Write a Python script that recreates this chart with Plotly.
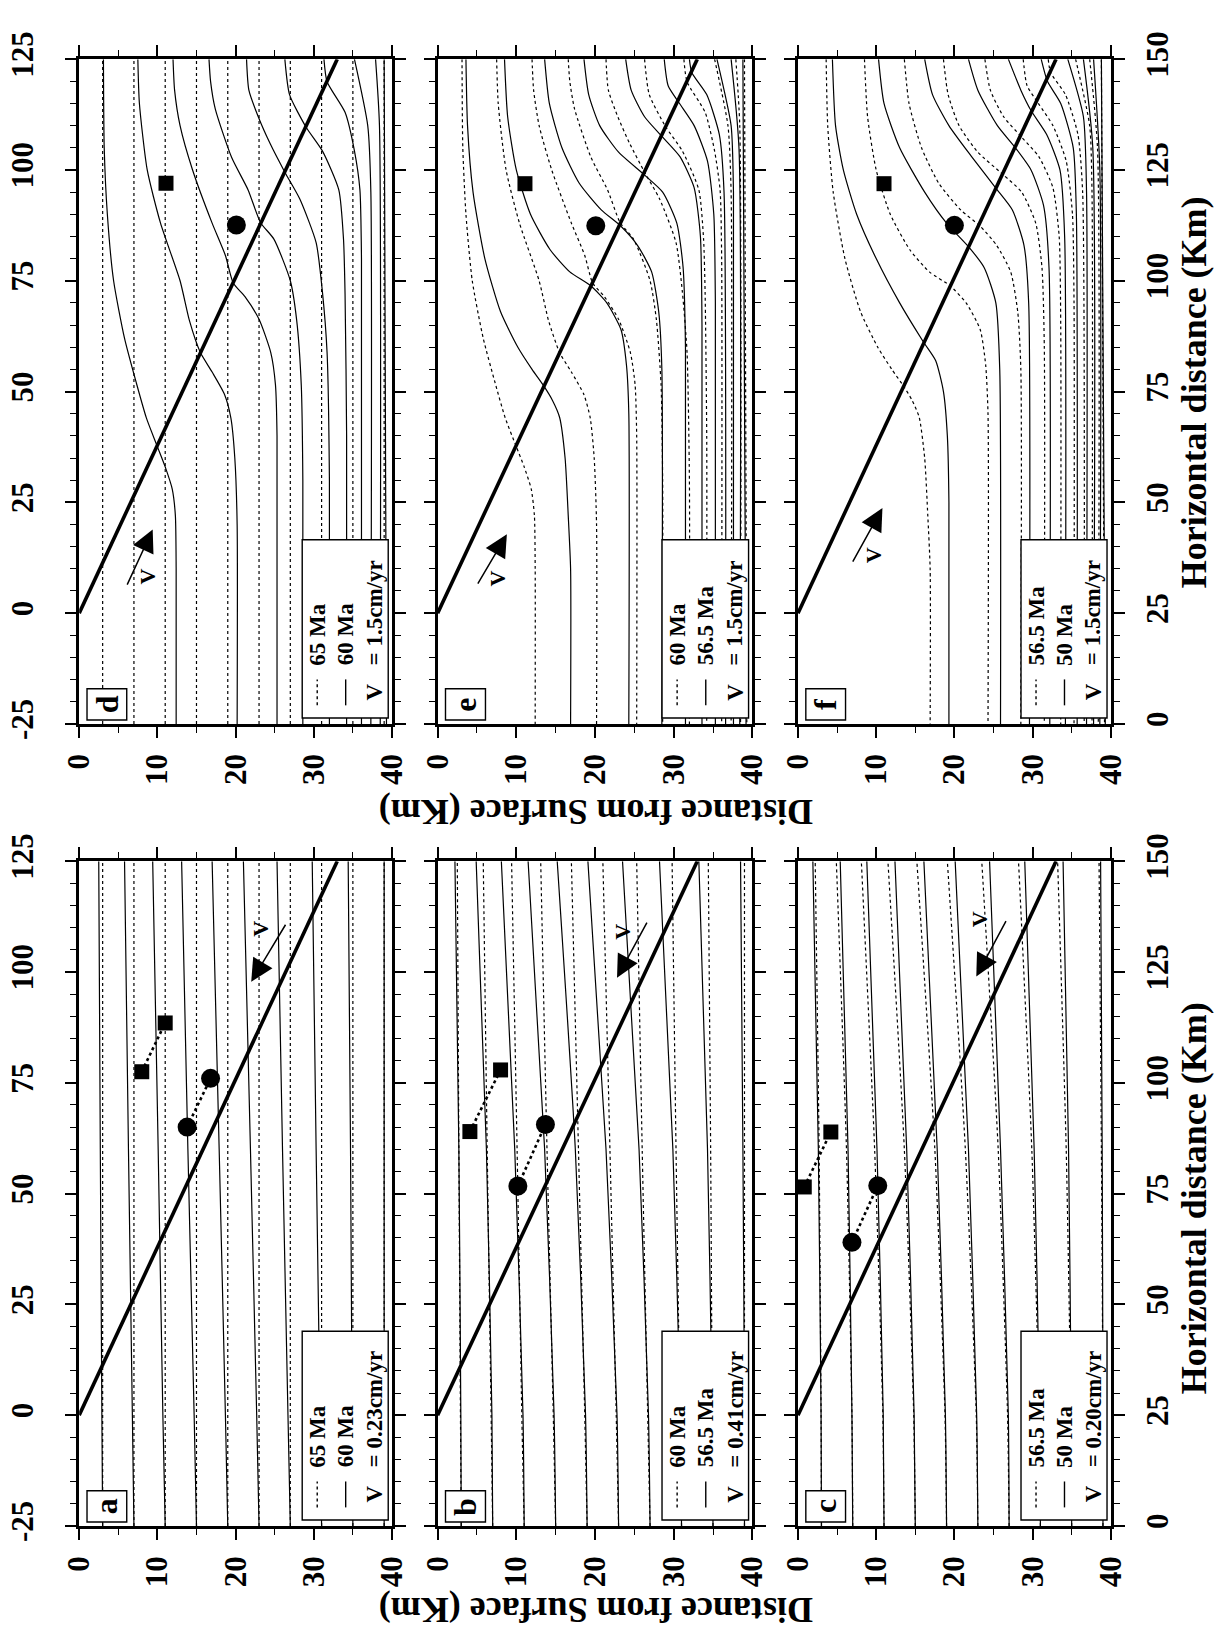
import plotly.graph_objects as go

# ---------------- data (depth in km, distance in km relative to fault trace) -------------
EQ_DEPTH = [3, 7, 11, 15, 19, 23, 27, 31, 35, 39]          # 65 Ma (equilibrium)
EQ_DIST = [-25, 125]

SLOW_DIST = [-25, 0, 60, 125]
SLOW60 = [[3, 2.9, 2.7, 2.5], [7, 6.8, 6.3, 5.8], [11, 10.7, 10.1, 9.4],
          [15, 14.7, 13.9, 13.1], [19, 18.7, 17.9, 17.0], [23, 22.7, 21.9, 21.0],
          [27, 26.7, 26.0, 25.3], [31, 30.8, 30.3, 29.8], [35, 34.9, 34.7, 34.4],
          [39, 39, 39, 39]]
SLOW565 = [[3, 2.95, 2.7, 2.2], [7, 6.9, 6.2, 4.9], [11, 10.85, 9.8, 8.1],
           [15, 14.8, 13.6, 11.5], [19, 18.8, 17.5, 15.2], [23, 22.8, 21.4, 19.1],
           [27, 26.8, 25.6, 23.5], [31, 30.85, 29.9, 28.2], [35, 34.9, 34.3, 33.2],
           [39, 39, 38.8, 38.5]]
SLOW50 = [[3, 2.95, 2.6, 1.9], [7, 6.9, 6.4, 5.4], [11, 10.9, 10.1, 8.8],
          [15, 14.85, 13.9, 12.4], [19, 18.85, 17.8, 16.1], [23, 22.85, 21.8, 20.1],
          [27, 26.9, 25.9, 24.5], [31, 30.9, 30.2, 29.0], [35, 34.95, 34.6, 33.9],
          [39, 39, 38.9, 38.7]]

FAST60_DIST = [
    [125, 105, 90, 75, 62, 52, 44, 37.8, 33, 28, 22, 10, -25],
    [125, 115, 100, 88, 75, 66, 58.8, 54.4, 49.3, 44, 35, 20, -25],
    [125, 118, 110, 100, 88, 80.7, 74.5, 71.4, 66.3, 58.8, 51.5, 40, -25],
    [125, 120, 113.8, 102.8, 95.5, 88.1, 84.4, 75, 66.3, 51.5, 30, -25],
    [125, 118, 112, 106, 99.5, 93.5, 83.6, 72.6, 58.8, 30, -25],
    [125, 117, 109.7, 104.3, 95.5, 84.4, 72, 40, -25],
    [125, 119.9, 113, 104.3, 95.5, 80, -25],
    [125, 110, 95, -25],
    [125, 110, -25],
    [125, -25]]
FAST60_DEPTH = [
    [3.1, 3.2, 3.6, 4.4, 5.8, 7.3, 8.6, 9.95, 11.0, 11.9, 12.3, 12.4, 12.4],
    [7.5, 7.7, 8.7, 10.4, 12.9, 14.1, 15.5, 17.0, 18.6, 19.4, 19.9, 20.2, 20.2],
    [12.0, 12.2, 12.9, 14.5, 17.0, 18.7, 19.7, 21.2, 23.0, 24.5, 25.1, 25.3, 25.3],
    [16.6, 16.8, 17.4, 19.5, 21.6, 23.2, 24.9, 27.0, 27.8, 28.4, 28.6, 28.6],
    [21.4, 21.7, 22.9, 24.4, 26.3, 28.2, 30.3, 31.1, 31.7, 32.0, 32.0],
    [26.3, 26.9, 29.0, 31.1, 33.2, 33.8, 34.0, 34.2, 34.2],
    [31.3, 31.7, 34.0, 35.2, 35.9, 36.1, 36.1],
    [35.2, 36.9, 37.3, 37.3],
    [37.9, 38.4, 38.5],
    [39.0, 39.3]]

FAST565_DIST = [
    [125, 110, 95, 80, 68, 60, 55, 51.1, 48, 44.2, 35, 22, 10, -25],
    [125, 112, 100, 90, 82, 77, 73.8, 70, 64, 56, 45, -25],
    [125, 115, 105, 97, 91, 87.3, 83, 77, 68, 55, -25],
    [125, 117, 110, 104, 99, 95, 88, 78, 60, -25],
    [125, 118, 112, 107.4, 103, 96, 85, 65, -25],
    [125, 119, 115.1, 110, 102, 90, 70, -25],
    [125, 122, 117, 108, 95, -25],
    [125, 110, 95, -25],
    [125, 105, -25],
    [125, -25]]
FAST565_DEPTH = [
    [3.6, 3.8, 4.5, 6.0, 8.0, 10.2, 12.0, 13.55, 14.6, 15.5, 16.2, 16.6, 16.9, 16.9],
    [8.5, 8.9, 10.0, 11.8, 14.3, 16.8, 19.5, 21.5, 23.3, 24.0, 24.3, 24.3],
    [13.6, 14.2, 15.8, 18.0, 20.8, 23.3, 25.4, 27.2, 28.1, 28.5, 28.5],
    [18.6, 19.2, 20.6, 23.0, 26.2, 28.6, 30.4, 31.2, 31.5, 31.5],
    [23.9, 24.6, 26.3, 28.6, 30.8, 32.6, 33.4, 33.6, 33.6],
    [28.8, 29.3, 30.7, 32.6, 34.3, 35.1, 35.3, 35.3],
    [32.0, 32.3, 34.2, 35.8, 36.4, 36.6],
    [35.5, 37.3, 37.6, 37.6],
    [37.3, 38.3, 38.4],
    [38.8, 39.2]]

FAST50_DIST = [
    [125, 110, 100, 90, 80, 70, 61.3, 57, 50, 40, 25, -25],
    [125, 115, 105, 95, 88, 82.7, 78, 70, 55, -25],
    [125, 117, 110, 103, 95.9, 91, 83, 70, -25],
    [125, 118, 110, 105, 100, 92, 78, -25],
    [125, 118, 113.4, 108, 100, 85, -25],
    [125, 120, 115, 105, 90, -25],
    [125, 112, 95, -25],
    [125, 105, -25],
    [125, 100, -25],
    [125, -25]]
FAST50_DEPTH = [
    [4.4, 4.8, 5.8, 7.5, 10.0, 13.0, 16.0, 17.6, 18.6, 19.1, 19.3, 19.3],
    [10.3, 11.0, 13.0, 16.2, 19.0, 21.8, 23.8, 25.3, 25.8, 25.9],
    [16.2, 17.2, 19.3, 22.2, 25.3, 27.4, 28.9, 29.5, 29.6],
    [21.8, 23.0, 25.5, 27.8, 29.8, 31.4, 32.1, 32.2],
    [26.9, 28.5, 29.8, 31.8, 33.5, 34.1, 34.2],
    [31.1, 31.9, 33.6, 35.2, 35.6, 35.7],
    [34.5, 36.5, 36.9, 36.9],
    [36.5, 37.7, 37.8],
    [37.8, 38.6, 38.6],
    [38.8, 39.3]]

FAULT_DIST = [0, 125]
FAULT_DEPTH = [0, 33.0]

PANELS = ["a", "b", "c", "d", "e", "f"]
DIST_OFFSET = {"a": 0, "b": 25, "c": 25, "d": 0, "e": 25, "f": 25}
DIST_RANGE = {"a": [-25, 125], "b": [0, 150], "c": [0, 150],
              "d": [-25, 125], "e": [0, 150], "f": [0, 150]}
DIST_TICKS = {"a": [-25, 0, 25, 50, 75, 100, 125], "d": [-25, 0, 25, 50, 75, 100, 125],
              "b": [0, 25, 50, 75, 100, 125, 150], "e": [0, 25, 50, 75, 100, 125, 150],
              "c": [0, 25, 50, 75, 100, 125, 150], "f": [0, 25, 50, 75, 100, 125, 150]}
X_TICKS = [0, 10, 20, 30, 40]

SQUARE_DEPTH = {"a": [8.0, 11.0], "b": [4.1, 8.0], "c": [0.8, 4.2], "d": [11.1], "e": [11.1], "f": [11.0]}
SQUARE_DIST = {"a": [77.5, 88.5], "b": [64.0, 77.9], "c": [51.5, 63.9], "d": [97.0], "e": [96.9], "f": [96.9]}
CIRCLE_DEPTH = {"a": [13.8, 16.8], "b": [10.2, 13.7], "c": [6.9, 10.2], "d": [20.1], "e": [20.1], "f": [20.0]}
CIRCLE_DIST = {"a": [65.0, 76.0], "b": [51.7, 65.6], "c": [39.0, 51.8], "d": [87.6], "e": [87.4], "f": [87.5]}

# velocity arrows: head / tail (depth, dist) and label position
ARROW_HEAD = {"a": (22.0, 97.8), "b": (22.8, 98.7), "c": (22.8, 99.0),
              "d": (9.4, 18.9), "e": (8.8, 17.8), "f": (10.8, 23.7)}
ARROW_TAIL = {"a": (26.5, 111.0), "b": (26.7, 111.5), "c": (26.7, 111.8),
              "d": (6.05, 6.1), "e": (5.0, 6.3), "f": (6.9, 11.3)}
V_LABEL = {"a": (23.1, 109.7), "b": (23.4, 109.0), "c": (23.2, 112.0),
           "d": (8.7, 8.3), "e": (7.6, 7.9), "f": (9.6, 13.1)}

LEG_DOTTED = {"a": "65 Ma", "b": "60 Ma", "c": "56.5 Ma", "d": "65 Ma", "e": "60 Ma", "f": "56.5 Ma"}
LEG_SOLID = {"a": "60 Ma", "b": "56.5 Ma", "c": "50 Ma", "d": "60 Ma", "e": "56.5 Ma", "f": "50 Ma"}
LEG_V = {"a": "= 0.23cm/yr", "b": "= 0.41cm/yr", "c": "= 0.20cm/yr",
         "d": "= 1.5cm/yr", "e": "= 1.5cm/yr", "f": "= 1.5cm/yr"}

# ---------------- families ----------------
EQ_FAM = [(EQ_DIST, [d, d]) for d in EQ_DEPTH]
def slow_fam(vals):
    return [(SLOW_DIST, v) for v in vals]
def fast_fam(dists, depths):
    return list(zip(dists, depths))

FAM = {"EQ": EQ_FAM, "S60": slow_fam(SLOW60), "S565": slow_fam(SLOW565), "S50": slow_fam(SLOW50),
       "F60": fast_fam(FAST60_DIST, FAST60_DEPTH), "F565": fast_fam(FAST565_DIST, FAST565_DEPTH),
       "F50": fast_fam(FAST50_DIST, FAST50_DEPTH)}
DOTTED = {"a": "EQ", "b": "S60", "c": "S565", "d": "EQ", "e": "F60", "f": "F565"}
SOLID = {"a": "S60", "b": "S565", "c": "S50", "d": "F60", "e": "F565", "f": "F50"}

# ---------------- layout geometry ----------------
W, H = 1222, 1652
COL_X = [(63, 385), (432, 756), (803, 1125)]
ROW_Y = {"top": (32, 715), "bot": (856, 1539)}
POS = {"a": (0, "bot"), "b": (1, "bot"), "c": (2, "bot"),
       "d": (0, "top"), "e": (1, "top"), "f": (2, "top")}

FONT = "Liberation Serif"

fig = go.Figure()
layout = dict(width=W, height=H, margin=dict(l=0, r=0, t=0, b=0),
              paper_bgcolor="white", plot_bgcolor="white", showlegend=False)
annotations = []
shapes = []

for i, p in enumerate(PANELS, start=1):
    sid = "" if i == 1 else str(i)
    xa, ya = "x" + sid, "y" + sid
    col, row = POS[p]
    x0, x1 = COL_X[col]
    y0, y1 = ROW_Y[row]
    xdom = [x0 / W, x1 / W]
    ydom = [1 - y1 / H, 1 - y0 / H]
    off = DIST_OFFSET[p]
    tickfont = dict(family=FONT, size=31, color="black", weight="bold")
    layout["xaxis" + sid] = dict(
        domain=xdom, anchor=ya, range=[0, 40], tickvals=X_TICKS,
        ticktext=[str(v) for v in X_TICKS], ticks="outside",
        ticklen=11, tickwidth=1.6, tickcolor="black", showline=True, linewidth=2.5,
        linecolor="black", mirror="ticks", tickangle=-90, tickfont=tickfont,
        minor=dict(dtick=5, tick0=0, ticks="outside", ticklen=6, tickwidth=1.4, tickcolor="black"),
        showgrid=False, zeroline=False, fixedrange=True, ticklabelstandoff=4)
    layout["yaxis" + sid] = dict(
        domain=ydom, anchor=xa, range=DIST_RANGE[p], tickvals=DIST_TICKS[p],
        ticktext=[str(v) for v in DIST_TICKS[p]], ticks="outside",
        ticklen=11, tickwidth=1.6, tickcolor="black", showline=True, linewidth=2.5,
        linecolor="black", mirror="ticks", tickangle=-90, tickfont=tickfont,
        side="right" if col == 2 else "left", showticklabels=(col != 1),
        minor=dict(dtick=5, tick0=0, ticks="outside", ticklen=6, tickwidth=1.4, tickcolor="black"),
        showgrid=False, zeroline=False, fixedrange=True,
        ticklabelstandoff=(20 if col == 0 else 6))

    # isotherms
    for dists, depths in FAM[DOTTED[p]]:
        fig.add_trace(go.Scatter(x=depths, y=[d + off for d in dists], mode="lines",
                                 line=dict(color="black", width=1.2, dash="3px,3px",
                                           shape="spline", smoothing=0.6),
                                 xaxis=xa, yaxis=ya, hoverinfo="skip"))
    for dists, depths in FAM[SOLID[p]]:
        fig.add_trace(go.Scatter(x=depths, y=[d + off for d in dists], mode="lines",
                                 line=dict(color="black", width=1.2, shape="spline", smoothing=0.6),
                                 xaxis=xa, yaxis=ya, hoverinfo="skip"))
    # fault
    fig.add_trace(go.Scatter(x=FAULT_DEPTH, y=[d + off for d in FAULT_DIST], mode="lines",
                             line=dict(color="black", width=3.6), xaxis=xa, yaxis=ya, hoverinfo="skip"))
    # samples
    sq_mode = "lines+markers" if len(SQUARE_DEPTH[p]) > 1 else "markers"
    fig.add_trace(go.Scatter(x=SQUARE_DEPTH[p], y=[d + off for d in SQUARE_DIST[p]], mode=sq_mode,
                             line=dict(color="black", width=2.6, dash="3px,3px"),
                             marker=dict(symbol="square", size=15, color="black"),
                             cliponaxis=False, xaxis=xa, yaxis=ya, hoverinfo="skip"))
    fig.add_trace(go.Scatter(x=CIRCLE_DEPTH[p], y=[d + off for d in CIRCLE_DIST[p]], mode=sq_mode,
                             line=dict(color="black", width=2.6, dash="3px,3px"),
                             marker=dict(symbol="circle", size=19, color="black"),
                             cliponaxis=False, xaxis=xa, yaxis=ya, hoverinfo="skip"))
    # velocity arrow
    hx, hy = ARROW_HEAD[p]
    tx, ty = ARROW_TAIL[p]
    annotations.append(dict(x=hx, y=hy + off, ax=tx, ay=ty + off, xref=xa, yref=ya,
                            axref=xa, ayref=ya, showarrow=True, arrowhead=2, arrowsize=3.0,
                            arrowwidth=1.5, arrowcolor="black", text=""))
    vx, vy = V_LABEL[p]
    annotations.append(dict(x=vx, y=vy + off, xref=xa, yref=ya, text="V", showarrow=False,
                            textangle=-90, font=dict(family=FONT, size=22, color="black", weight="bold")))

    # legend box
    dx, dy = xa + " domain", ya + " domain"
    leg_top = 0.293 if row == "bot" else 0.277
    shapes.append(dict(type="rect", xref=dx, yref=dy, x0=0.713, x1=0.988, y0=0.009, y1=leg_top,
                       line=dict(color="black", width=1.4), fillcolor="white", layer="above"))
    shapes.append(dict(type="line", xref=dx, yref=dy, x0=0.761, x1=0.761, y0=0.028, y1=0.067,
                       line=dict(color="black", width=1.4, dash="3px,3px"), layer="above"))
    shapes.append(dict(type="line", xref=dx, yref=dy, x0=0.852, x1=0.852, y0=0.028, y1=0.067,
                       line=dict(color="black", width=1.4), layer="above"))
    lfont = dict(family=FONT, size=23, color="black", weight="bold")
    for cx, txt in ((0.761, LEG_DOTTED[p]), (0.852, LEG_SOLID[p]), (0.944, LEG_V[p])):
        annotations.append(dict(x=cx, y=0.085, xref=dx, yref=dy, text=txt, showarrow=False,
                                textangle=-90, xanchor="center", yanchor="bottom", font=lfont))
    annotations.append(dict(x=0.944, y=0.048, xref=dx, yref=dy, text="V", showarrow=False,
                            textangle=-90, xanchor="center", yanchor="middle", font=lfont))
    # panel letter
    shapes.append(dict(type="rect", xref=dx, yref=dy, x0=0.025, x1=0.152, y0=0.006, y1=0.053,
                       line=dict(color="black", width=1.4), fillcolor="white", layer="above"))
    annotations.append(dict(x=0.0885, y=0.0295, xref=dx, yref=dy, text=p, showarrow=False,
                            textangle=-90, xanchor="center", yanchor="middle",
                            font=dict(family=FONT, size=32, color="black", weight="bold")))

tfont = dict(family=FONT, size=36, color="black", weight="bold")
for yc in (806, 1626):
    annotations.append(dict(x=595 / W, y=1 - yc / H, xref="paper", yref="paper",
                            text="Distance from Surface (Km)", showarrow=False, textangle=180,
                            xanchor="center", yanchor="middle", font=tfont))
for yc in (374, 1202):
    annotations.append(dict(x=1211 / W, y=1 - yc / H, xref="paper", yref="paper",
                            text="Horizontal distance (Km)", showarrow=False, textangle=-90,
                            xanchor="center", yanchor="middle", font=tfont))

layout["annotations"] = annotations
layout["shapes"] = shapes
fig.update_layout(**layout)
fig.write_html("out.html")
